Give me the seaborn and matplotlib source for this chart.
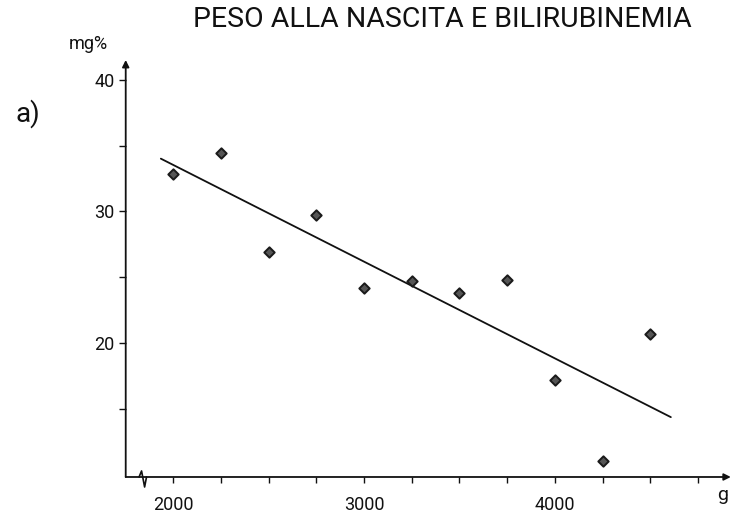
import matplotlib
matplotlib.use("Agg")
import matplotlib.pyplot as plt
import seaborn as sns
import pandas as pd
import numpy as np

# ---- data ----
peso_g = [2000, 2250, 2500, 2750, 3000, 3250, 3500, 3750, 4000, 4250, 4500]
bilirubina = [32.8, 34.4, 26.9, 29.7, 24.2, 24.7, 23.8, 24.8, 17.2, 11.0, 20.7]
trend_x = [1936, 4607]
trend_y = [34.0, 14.35]
x_tick_labels = [2000, 3000, 4000]
y_tick_labels = [20, 30, 40]

title = "PESO ALLA NASCITA E BILIRUBINEMIA"

sns.set_style("white")
fam = ["Roboto", "DejaVu Sans"]
plt.rcParams["font.family"] = fam

fig = plt.figure(figsize=(7.33, 5.15), dpi=100)
ax = fig.add_axes([0.1715, 0.0738, 0.8255, 0.8097])

df = pd.DataFrame({"peso": peso_g, "bili": bilirubina})
tr = pd.DataFrame({"x": trend_x, "y": trend_y})

sns.lineplot(data=tr, x="x", y="y", ax=ax, color="#111111", linewidth=1.3)
sns.scatterplot(data=df, x="peso", y="bili", ax=ax, marker="D", s=28,
                color="#555555", edgecolor="#1a1a1a", linewidth=1.4, zorder=3)

ax.set_xlim(1752, 4921)
ax.set_ylim(9.8, 41.5)

for s in ax.spines.values():
    s.set_visible(False)

# axes with arrows
ax.annotate("", xy=(1.0, 0), xytext=(0, 0), xycoords="axes fraction",
            arrowprops=dict(arrowstyle="-|>", color="#111111", lw=1.3,
                            mutation_scale=10, shrinkA=0, shrinkB=0))
ax.annotate("", xy=(0, 1.0), xytext=(0, 0), xycoords="axes fraction",
            arrowprops=dict(arrowstyle="-|>", color="#111111", lw=1.3,
                            mutation_scale=10, shrinkA=0, shrinkB=0))

# axis break squiggle on x axis
bx = 1848
trans = ax.get_xaxis_transform()
ax.plot([bx - 26, bx - 13, bx + 3, bx + 13],
        [0, 0.0145, -0.024, 0], transform=trans, color="#111111",
        lw=1.2, clip_on=False, zorder=5)

xt = np.arange(2000, 4751, 250)
yt = np.arange(15, 41, 5)
ax.set_xticks(xt)
ax.set_xticklabels([str(v) if v in x_tick_labels else "" for v in xt])
ax.set_yticks(yt)
ax.set_yticklabels([str(v) if v in y_tick_labels else "" for v in yt])
ax.tick_params(axis="x", direction="out", length=4, width=1.0, pad=10,
               labelsize=13, colors="#111111", bottom=True)
ax.tick_params(axis="y", direction="out", length=5, width=1.0, pad=3,
               labelsize=13, colors="#111111", left=True)
ax.set_xlabel("")
ax.set_ylabel("")

fig.text(0.603, 0.963, title, ha="center", va="center", fontsize=20.5,
         color="#111111", family=fam)
fig.text(0.12, 0.914, "mg%", ha="center", va="center", fontsize=13,
         color="#111111", family=fam)
fig.text(0.038, 0.78, "a)", ha="center", va="center", fontsize=20,
         color="#111111", family=fam)
fig.text(0.986, 0.039, "g", ha="center", va="center", fontsize=14,
         color="#111111", family=fam)

fig.savefig("out.png", dpi=100)
